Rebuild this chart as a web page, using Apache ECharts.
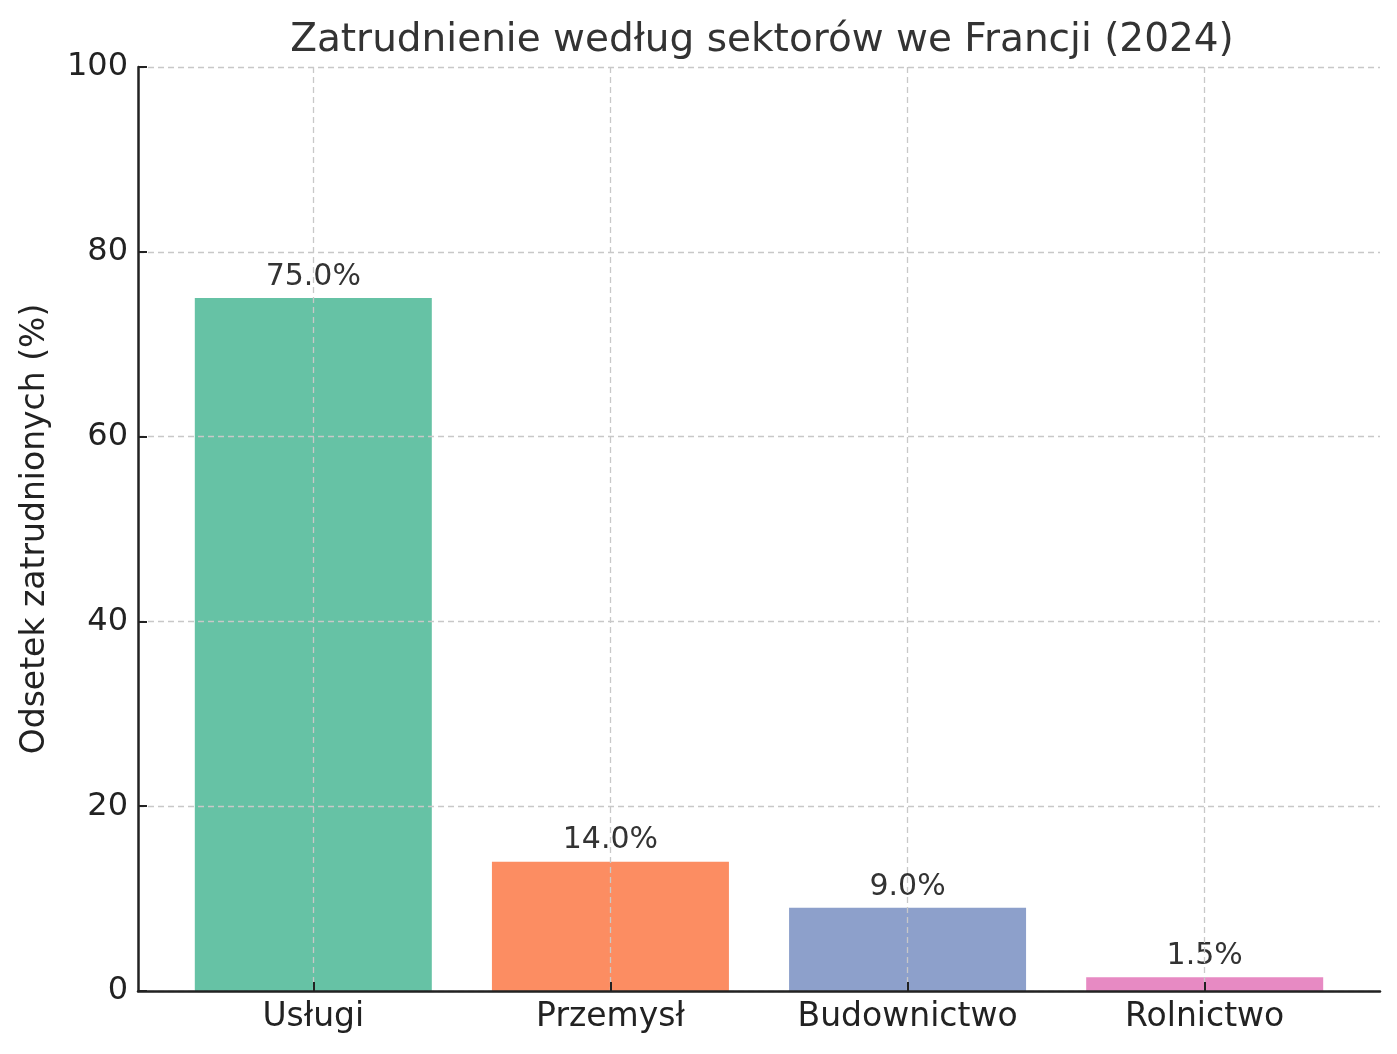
<!DOCTYPE html>
<html><head><meta charset="utf-8">
<script src="https://cdn.jsdelivr.net/npm/echarts@6/dist/echarts.min.js"></script>
<style>html,body{margin:0;padding:0;background:#fff}#c{width:1397px;height:1054px}</style>
</head><body><div id="c"></div>
<script>
const categories = ['Usługi', 'Przemysł', 'Budownictwo', 'Rolnictwo'];
const values = [75.0, 14.0, 9.0, 1.5];
const colors = ['#66c2a5', '#fc8d62', '#8da0cb', '#e78ac3'];
const yTicks = [0, 20, 40, 60, 80, 100];

const chart = echarts.init(document.getElementById('c'));
const FONT = 'DejaVu Sans';
chart.setOption({
  animation: false,
  backgroundColor: '#fff',
  title: {
    text: 'Zatrudnienie według sektorów we Francji (2024)',
    left: 757, top: 16, textAlign: 'center',
    textStyle: {fontFamily: FONT, fontSize: 39, fontWeight: 'normal', color: '#333'}
  },
  grid: {left: 138, right: 17, top: 67, bottom: 63},
  xAxis: {
    type: 'value', min: -0.59, max: 3.59, z: 5,
    axisLine: {show: true, onZero: false, lineStyle: {color: '#222', width: 2.5}},
    axisTick: {show: true, inside: true, length: 9, customValues: [0, 1, 2, 3], lineStyle: {color: '#222', width: 2}},
    axisLabel: {customValues: [0, 1, 2, 3], formatter: v => categories[Math.round(v)] || '',
      fontFamily: FONT, fontSize: 33, color: '#222', margin: 10},
    splitLine: {show: true, lineStyle: {color: '#c8c8c8', type: [6, 4], width: 1.3}}
  },
  yAxis: {
    type: 'value', min: 0, max: 100, interval: 20, z: 5,
    name: 'Odsetek zatrudnionych (%)', nameLocation: 'middle', nameGap: 86, nameRotate: 90,
    nameTextStyle: {fontFamily: FONT, fontSize: 33, color: '#222'},
    axisLine: {show: true, onZero: false, lineStyle: {color: '#222', width: 2.5}},
    axisTick: {show: true, inside: true, length: 9, lineStyle: {color: '#222', width: 2}},
    axisLabel: {fontFamily: FONT, fontSize: 32, color: '#222', margin: 10},
    splitLine: {show: true, lineStyle: {color: '#c8c8c8', type: [6, 4], width: 1.3}}
  },
  series: [{
    type: 'bar', barWidth: 237, z: 2,
    data: values.map((v, i) => ({value: [i, v], itemStyle: {color: colors[i]}})),
    label: {show: true, position: 'top', distance: 6, formatter: p => p.value[1].toFixed(1) + '%',
      fontFamily: FONT, fontSize: 30, color: '#333'}
  }]
});
</script></body></html>
